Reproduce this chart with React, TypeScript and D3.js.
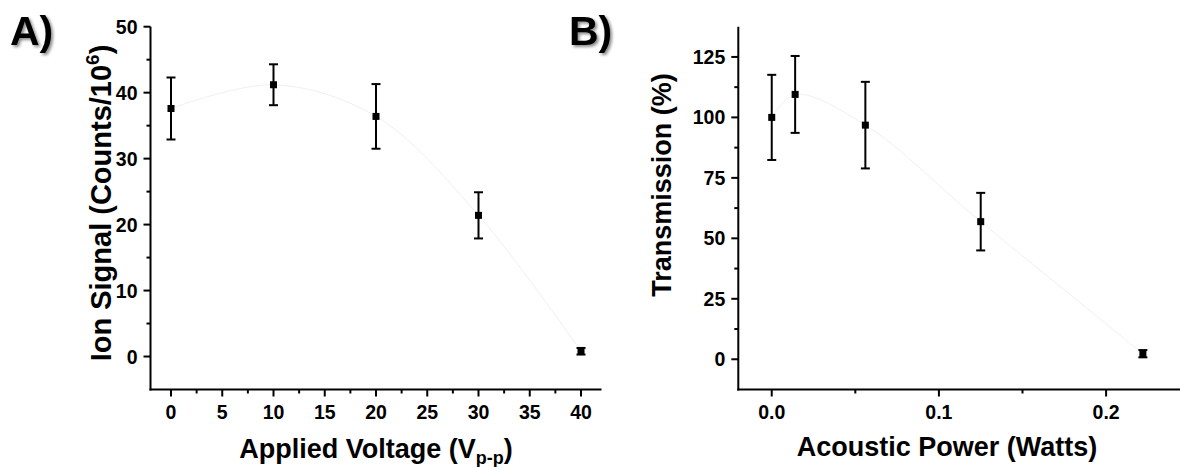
import React from "react";
import * as d3 from "d3";

// Panel A data
const voltage = [0, 10, 20, 30, 40];
const ionSignal = [37.6, 41.2, 36.4, 21.4, 0.8];
const ionErr = [4.7, 3.1, 4.9, 3.5, 0.5];
const voltTicks = [0, 5, 10, 15, 20, 25, 30, 35, 40];
const ionTicks = [0, 10, 20, 30, 40, 50];

// Panel B data
const power = [0.0, 0.014, 0.056, 0.125, 0.222];
const transmission = [100, 109.5, 96.8, 56.9, 2.3];
const transErr = [17.6, 15.9, 17.9, 11.9, 1.5];
const powerTicks = [0.0, 0.1, 0.2];
const transTicks = [0, 25, 50, 75, 100, 125];

const FONT = "'Liberation Sans', Arial, Helvetica, sans-serif";

type PanelProps = {
  x: d3.ScaleLinear<number, number>;
  y: d3.ScaleLinear<number, number>;
  xs: number[];
  ys: number[];
  errs: number[];
  xMajor: number[];
  xMinor: number[];
  yMajor: number[];
  yMinor: number[];
  xFmt: (v: number) => string;
  tickFont: number;
};

function Panel({ x, y, xs, ys, errs, xMajor, xMinor, yMajor, yMinor, xFmt, tickFont }: PanelProps) {
  const [x0, x1] = x.range();
  const [yb, yt] = y.range();
  const pts = xs.map((v, i) => [x(v), y(ys[i])] as [number, number]);
  const line = d3.line().curve(d3.curveCatmullRom.alpha(0.5))(pts) || "";
  return (
    <g>
      <path d={line} fill="none" stroke="#f0f0f0" strokeWidth={1} />
      {/* axes */}
      <line x1={x0} x2={x0} y1={yt} y2={yb + 1} stroke="#000" strokeWidth={2} />
      <line x1={x0 - 1} x2={x1} y1={yb} y2={yb} stroke="#000" strokeWidth={2} />
      {yMajor.map((t) => (
        <g key={"ym" + t}>
          <line x1={x0 - 7} x2={x0} y1={y(t)} y2={y(t)} stroke="#000" strokeWidth={2} />
          <text x={x0 - 13} y={y(t)} dy="0.36em" textAnchor="end" fontSize={tickFont} fontWeight="bold" fontFamily={FONT}>
            {t}
          </text>
        </g>
      ))}
      {yMinor.map((t) => (
        <line key={"yn" + t} x1={x0 - 4} x2={x0} y1={y(t)} y2={y(t)} stroke="#000" strokeWidth={2} />
      ))}
      {xMajor.map((t) => (
        <g key={"xm" + t}>
          <line x1={x(t)} x2={x(t)} y1={yb} y2={yb + 7} stroke="#000" strokeWidth={2} />
          <text x={x(t)} y={yb + 29} textAnchor="middle" fontSize={tickFont} fontWeight="bold" fontFamily={FONT}>
            {xFmt(t)}
          </text>
        </g>
      ))}
      {xMinor.map((t) => (
        <line key={"xn" + t} x1={x(t)} x2={x(t)} y1={yb} y2={yb + 4} stroke="#000" strokeWidth={2} />
      ))}
      {/* error bars and markers */}
      {xs.map((v, i) => {
        const cx = x(v);
        const top = y(ys[i] + errs[i]);
        const bot = y(ys[i] - errs[i]);
        return (
          <g key={"p" + i}>
            <line x1={cx} x2={cx} y1={top} y2={bot} stroke="#000" strokeWidth={2} />
            <line x1={cx - 4.5} x2={cx + 4.5} y1={top} y2={top} stroke="#000" strokeWidth={2} />
            <line x1={cx - 4.5} x2={cx + 4.5} y1={bot} y2={bot} stroke="#000" strokeWidth={2} />
            <rect x={cx - 3.5} y={y(ys[i]) - 3.5} width={7} height={7} fill="#000" />
          </g>
        );
      })}
    </g>
  );
}

export default function App() {
  const xA = d3.scaleLinear().domain([-2, 42]).range([150.5, 601.5]);
  const yA = d3.scaleLinear().domain([-5, 50]).range([389.5, 26.7]);
  const xB = d3.scaleLinear().domain([-0.02, 0.246]).range([738.3, 1183]);
  const yB = d3.scaleLinear().domain([-12.5, 137.5]).range([389.5, 26.7]);

  const voltMinor = d3.range(2.5, 40, 5);
  const ionMinor = d3.range(5, 50, 10);
  const powerMinor = [0.05, 0.15];
  const transMinor = d3.range(12.5, 125, 25);

  return (
    <svg
      width={1180}
      height={467}
      style={{ position: "absolute", left: 0, top: 0, background: "#fff" }}
      fontFamily={FONT}
    >
      <defs>
        <filter id="shadow" x="-20%" y="-20%" width="150%" height="150%">
          <feDropShadow dx={2} dy={2} stdDeviation={1.6} floodColor="#000" floodOpacity={0.45} />
        </filter>
      </defs>
      <rect width={1180} height={467} fill="#fff" />
      <text x={10} y={45} fontSize={41} fontWeight="bold" filter="url(#shadow)">A)</text>
      <text x={569} y={45} fontSize={41} fontWeight="bold" filter="url(#shadow)">B)</text>

      <Panel
        x={xA}
        y={yA}
        xs={voltage}
        ys={ionSignal}
        errs={ionErr}
        xMajor={voltTicks}
        xMinor={voltMinor}
        yMajor={ionTicks}
        yMinor={ionMinor}
        xFmt={(v) => String(v)}
        tickFont={19.5}
      />
      <Panel
        x={xB}
        y={yB}
        xs={power}
        ys={transmission}
        errs={transErr}
        xMajor={powerTicks}
        xMinor={powerMinor}
        yMajor={transTicks}
        yMinor={transMinor}
        xFmt={(v) => v.toFixed(1)}
        tickFont={19.5}
      />

      {/* axis titles */}
      <text x={376} y={458} textAnchor="middle" fontSize={27} fontWeight="bold">
        Applied Voltage (V<tspan fontSize={18} dy={6}>p-p</tspan><tspan dy={-6}>)</tspan>
      </text>
      <text x={947} y={456} textAnchor="middle" fontSize={27} fontWeight="bold">
        Acoustic Power (Watts)
      </text>
      <text transform="translate(111,203) rotate(-90)" textAnchor="middle" fontSize={29} fontWeight="bold">
        Ion Signal (Counts/10<tspan fontSize={19} dy={-12}>6</tspan><tspan dy={12}>)</tspan>
      </text>
      <text transform="translate(671,185) rotate(-90)" textAnchor="middle" fontSize={27} fontWeight="bold">
        Transmission (%)
      </text>
    </svg>
  );
}
